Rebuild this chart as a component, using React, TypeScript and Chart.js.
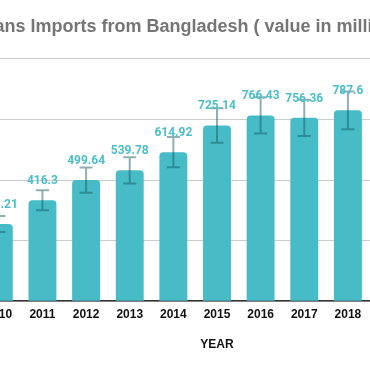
import React, { useEffect, useRef } from 'react';
import { Chart, registerables } from 'chart.js';

Chart.register(...registerables);

const years = ['2010', '2011', '2012', '2013', '2014', '2015', '2016', '2017', '2018'];
const importValues = [318.21, 416.3, 499.64, 539.78, 614.92, 725.14, 766.43, 756.36, 787.6];
const errorMargins = [33, 41, 52, 54, 62, 71, 75, 75, 78];
const yTickValues = [0, 250, 500, 750, 1000];
const titleText = 'Americans Imports from Bangladesh ( value in million US$)';
const xAxisTitle = 'YEAR';

const BAR_COLOR = '#47bcc7';
const LABEL_COLOR = '#4bbfc9';
const ERROR_COLOR = 'rgba(18,88,94,0.47)';

const overlayPlugin = {
  id: 'errorAndLabels',
  afterDatasetsDraw(chart: any) {
    const { ctx } = chart;
    const y = chart.scales.y;
    const meta = chart.getDatasetMeta(0);
    ctx.save();
    meta.data.forEach((bar: any, i: number) => {
      const v = importValues[i];
      const e = errorMargins[i];
      const top = y.getPixelForValue(v + e);
      const bot = y.getPixelForValue(v - e);
      const x = bar.x;
      const cap = 6.5;
      ctx.beginPath();
      ctx.moveTo(x - cap, top);
      ctx.lineTo(x + cap, top);
      ctx.moveTo(x, top);
      ctx.lineTo(x, bot);
      ctx.moveTo(x - cap, bot);
      ctx.lineTo(x + cap, bot);
      ctx.strokeStyle = ERROR_COLOR;
      ctx.lineWidth = 2;
      ctx.stroke();
    });
    ctx.font = 'bold 12px Roboto';
    ctx.fillStyle = LABEL_COLOR;
    ctx.textAlign = 'center';
    ctx.textBaseline = 'middle';
    meta.data.forEach((bar: any, i: number) => {
      ctx.fillText(String(importValues[i]), bar.x, bar.y - 19);
    });
    ctx.restore();
  },
};

export default function App() {
  const ref = useRef<HTMLCanvasElement>(null);

  useEffect(() => {
    if (!ref.current) return;
    const chart = new Chart(ref.current, {
      type: 'bar',
      data: {
        datasets: [
          {
            label: 'Imports',
            data: years.map((yr, i) => ({ x: Number(yr), y: importValues[i] })),
            backgroundColor: BAR_COLOR,
            borderRadius: 4,
            borderSkipped: 'start',
            barPercentage: 0.8,
            categoryPercentage: 0.8,
          },
        ],
      },
      options: {
        responsive: false,
        animation: false,
        layout: { padding: { left: 0, right: 0, top: 0, bottom: 15 } },
        plugins: {
          legend: { display: false },
          tooltip: { enabled: false },
          title: {
            display: true,
            text: titleText,
            color: '#757575',
            font: { family: '"Liberation Sans", Arial, sans-serif', size: 18, weight: 'bold' },
            padding: { top: 16, bottom: 21.2 },
          },
        },
        scales: {
          x: {
            type: 'linear',
            min: 2009.5,
            max: 2020.5,
            offset: false,
            afterBuildTicks: (scale: any) => {
              scale.ticks = years.map((yr) => ({ value: Number(yr) }));
            },
            grid: { display: false, drawTicks: false },
            border: { display: true, color: '#333333', width: 1.5 },
            ticks: {
              autoSkip: false,
              maxRotation: 0,
              padding: 6,
              color: '#111111',
              font: { family: '"Liberation Sans", Arial, sans-serif', size: 12, weight: 'bold' },
              callback: (value: any) => String(value),
            },
            title: {
              display: true,
              text: xAxisTitle,
              color: '#111111',
              font: { family: '"Liberation Sans", Arial, sans-serif', size: 12, weight: 'bold' },
              padding: { top: 10, bottom: 4 },
            },
          },
          y: {
            min: 0,
            max: 1000,
            afterBuildTicks: (scale: any) => {
              scale.ticks = yTickValues.map((v) => ({ value: v }));
            },
            afterFit: (scale: any) => {
              scale.width = 60;
            },
            grid: { color: '#cccccc', lineWidth: 1, drawTicks: false },
            border: { display: false },
            ticks: { color: '#666666', font: { size: 11 } },
          },
        },
      },
      plugins: [overlayPlugin],
    } as any);
    return () => chart.destroy();
  }, []);

  return (
    <div
      style={{
        position: 'fixed',
        left: 0,
        top: 0,
        width: 370,
        height: 371,
        overflow: 'hidden',
        background: '#ffffff',
      }}
    >
      <canvas
        ref={ref}
        width={540}
        height={371}
        style={{ position: 'absolute', left: -83, top: 0, width: 540, height: 371 }}
      />
    </div>
  );
}
